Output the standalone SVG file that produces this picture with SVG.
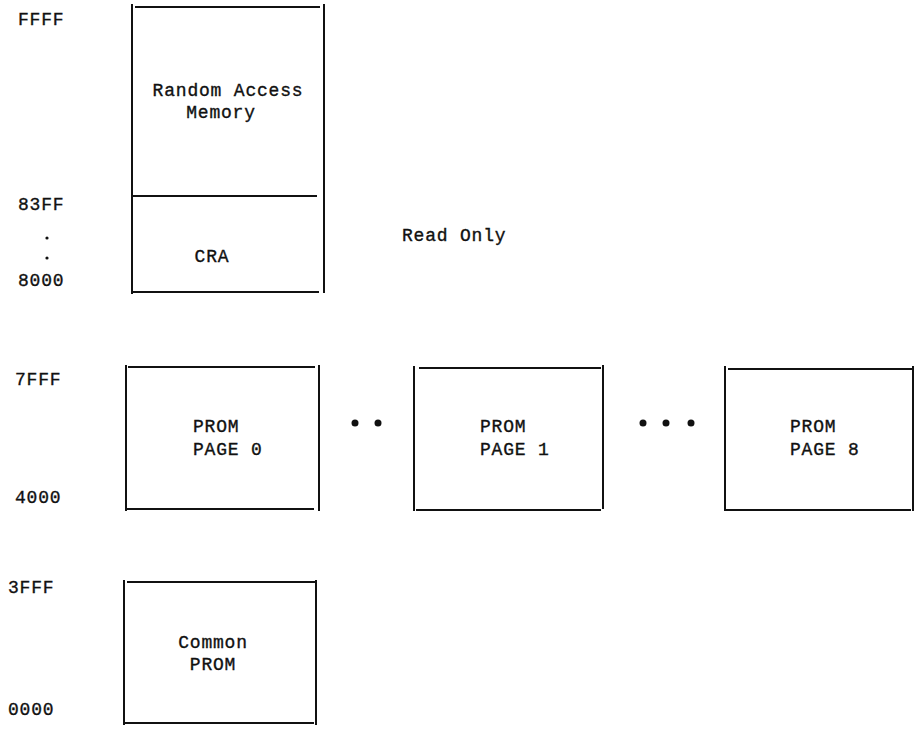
<svg xmlns="http://www.w3.org/2000/svg" width="918" height="733" viewBox="0 0 918 733">
<style>
.ln{stroke:#111;stroke-width:2;fill:none;stroke-linecap:square}
text{font-family:"Liberation Mono","Courier New",monospace;font-size:18px;fill:#111;stroke:#111;stroke-width:0.35;letter-spacing:0.8px}
.m{text-anchor:middle}
.dot{fill:#111}
</style>
<rect width="918" height="733" fill="#fff"/>
<g id="labels">
<text x="18" y="25">FFFF</text>
<text x="18" y="210">83FF</text>
<circle class="dot" cx="47" cy="238" r="1.6"/>
<circle class="dot" cx="47" cy="258" r="1.6"/>
<text x="18" y="286">8000</text>
<text x="15" y="385">7FFF</text>
<text x="15" y="503">4000</text>
<text x="8" y="593">3FFF</text>
<text x="8" y="715">0000</text>
<text x="402" y="241">Read Only</text>
</g>
<g id="ram">
<line class="ln" x1="132" y1="5" x2="132" y2="293"/>
<line class="ln" x1="324" y1="5" x2="324" y2="292"/>
<line class="ln" x1="136" y1="7" x2="319" y2="7"/>
<line class="ln" x1="134" y1="196" x2="316" y2="196"/>
<line class="ln" x1="133" y1="292" x2="318" y2="292"/>
<text class="m" x="228" y="96">Random Access</text>
<text class="m" x="221" y="118">Memory</text>
<text class="m" x="212" y="262">CRA</text>
</g>
<g id="prom0">
<line class="ln" x1="126" y1="366" x2="126" y2="510"/>
<line class="ln" x1="319" y1="366" x2="319" y2="510"/>
<line class="ln" x1="129" y1="367" x2="314" y2="367"/>
<line class="ln" x1="128" y1="509" x2="313" y2="509"/>
<text x="193" y="432">PROM</text>
<text x="193" y="455">PAGE 0</text>
</g>
<g id="prom1">
<line class="ln" x1="414" y1="367" x2="414" y2="510"/>
<line class="ln" x1="603" y1="366" x2="603" y2="508"/>
<line class="ln" x1="420" y1="368" x2="600" y2="368"/>
<line class="ln" x1="417" y1="510" x2="600" y2="510"/>
<text x="480" y="432">PROM</text>
<text x="480" y="455">PAGE 1</text>
</g>
<g id="prom8">
<line class="ln" x1="725" y1="367" x2="725" y2="510"/>
<line class="ln" x1="913" y1="367" x2="913" y2="510"/>
<line class="ln" x1="729" y1="369" x2="911" y2="369"/>
<line class="ln" x1="727" y1="510" x2="910" y2="510"/>
<text x="790" y="432">PROM</text>
<text x="790" y="455">PAGE 8</text>
</g>
<g id="common">
<line class="ln" x1="124" y1="581" x2="124" y2="724"/>
<line class="ln" x1="316" y1="581" x2="316" y2="724"/>
<line class="ln" x1="128" y1="582" x2="314" y2="582"/>
<line class="ln" x1="125" y1="723" x2="313" y2="723"/>
<text class="m" x="213" y="648">Common</text>
<text class="m" x="213" y="670">PROM</text>
</g>
<g id="connectors">
<circle class="dot" cx="355" cy="423" r="3.5"/>
<circle class="dot" cx="378" cy="423" r="3.5"/>
<circle class="dot" cx="643" cy="423" r="3.5"/>
<circle class="dot" cx="666" cy="423" r="3.5"/>
<circle class="dot" cx="691" cy="423" r="3.5"/>
</g>
</svg>
